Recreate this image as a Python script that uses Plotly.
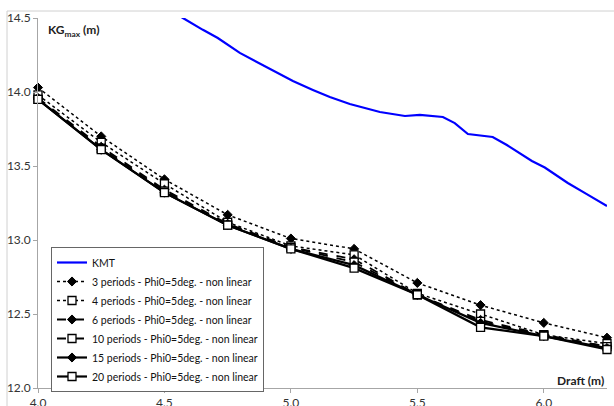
import plotly.graph_objects as go

# ---- data ----
kmt_draft = [4.50, 4.573, 4.652, 4.711, 4.798, 4.866, 4.945, 5.008, 5.087, 5.154, 5.233,
             5.352, 5.451, 5.51, 5.601, 5.648, 5.70, 5.798, 5.854, 5.953, 6.004, 6.095,
             6.17, 6.25]
kmt = [14.58, 14.50, 14.42, 14.365, 14.264, 14.203, 14.135, 14.074, 14.014, 13.966, 13.919,
       13.865, 13.838, 13.845, 13.831, 13.79, 13.716, 13.696, 13.642, 13.534, 13.49, 13.385,
       13.31, 13.23]

draft = [4.0, 4.25, 4.5, 4.75, 5.0, 5.25, 5.5, 5.75, 6.0, 6.25]
p3 = [14.03, 13.70, 13.41, 13.17, 13.01, 12.94, 12.71, 12.56, 12.44, 12.34]
p4 = [13.98, 13.66, 13.38, 13.12, 12.96, 12.90, 12.64, 12.50, 12.36, 12.30]
p6 = [13.96, 13.63, 13.34, 13.11, 12.95, 12.87, 12.63, 12.46, 12.36, 12.28]
p10 = [13.95, 13.62, 13.33, 13.10, 12.95, 12.85, 12.63, 12.45, 12.355, 12.28]
p15 = [13.95, 13.61, 13.32, 13.10, 12.94, 12.83, 12.63, 12.44, 12.35, 12.27]
p20 = [13.95, 13.61, 13.32, 13.10, 12.94, 12.81, 12.63, 12.41, 12.35, 12.26]

series_names = [
    "3 periods - Phi0=5deg. - non linear",
    "4 periods - Phi0=5deg. - non linear",
    "6 periods - Phi0=5deg. - non linear",
    "10 periods - Phi0=5deg. - non linear",
    "15 periods - Phi0=5deg. - non linear",
    "20 periods - Phi0=5deg. - non linear",
]
series_values = [p3, p4, p6, p10, p15, p20]
dashes = ["dot", "dot", "dash", "dash", "solid", "solid"]
widths = [1.5, 1.5, 1.8, 1.8, 2.2, 2.2]
symbols = ["diamond", "square", "diamond", "square", "diamond", "square"]

fig = go.Figure()
fig.add_trace(go.Scatter(x=kmt_draft, y=kmt, mode="lines", name="KMT",
                         line=dict(color="#0000FF", width=2.2)))
for name, vals, dsh, w, sym in zip(series_names, series_values, dashes, widths, symbols):
    if sym == "diamond":
        mk = dict(symbol="diamond", size=7, color="black", line=dict(color="black", width=1))
    else:
        mk = dict(symbol="square", size=8, color="white", line=dict(color="black", width=1.3))
    fig.add_trace(go.Scatter(x=draft, y=vals, mode="lines+markers", name=name,
                             line=dict(color="black", width=w, dash=dsh), marker=mk,
                             cliponaxis=False))

fig.update_layout(
    width=614, height=406,
    margin=dict(l=38, r=7, t=18, b=18, autoexpand=False),
    paper_bgcolor="white", plot_bgcolor="white",
    font=dict(family="Lato, 'Open Sans', sans-serif", size=12, color="#333333"),
    showlegend=True,
    legend=dict(x=(51 - 38) / 569, y=(388 - 319.5) / 370, xanchor="left", yanchor="middle",
                bgcolor="white", bordercolor="#666666", borderwidth=1,
                font=dict(size=10.5, color="#111111"), tracegroupgap=0),
    xaxis=dict(range=[4.0, 6.25], dtick=0.5, tick0=4.0, tickformat=".1f",
               showgrid=False, zeroline=False, showline=True, linecolor="#a6a6a6",
               linewidth=1, ticks="outside", ticklen=4, tickcolor="#a6a6a6"),
    yaxis=dict(range=[12.0, 14.5], dtick=0.5, tick0=12.0, tickformat=".1f",
               showgrid=False, zeroline=False, showline=True, linecolor="#a6a6a6",
               linewidth=1, ticks="outside", ticklen=4, tickcolor="#a6a6a6"),
    annotations=[
        dict(text="<b>KG<sub>max</sub> (m)</b>", xref="paper", yref="paper",
             x=(46 - 38) / 569, y=(388 - 31) / 370, xanchor="left", yanchor="middle",
             showarrow=False, font=dict(size=12, color="#222222")),
        dict(text="<b>Draft (m)</b>", xref="paper", yref="paper",
             x=(606 - 38) / 569, y=(388 - 380) / 370, xanchor="right", yanchor="middle",
             showarrow=False, font=dict(size=12, color="#222222")),
    ],
    shapes=[
        dict(type="rect", xref="paper", yref="paper",
             x0=(7 - 38) / 569, x1=1.5, y0=-0.5, y1=(388 - 11) / 370,
             line=dict(color="#d0d0d0", width=1), fillcolor="rgba(0,0,0,0)", layer="below"),
    ],
)

fig.write_html("out.html", config={"displayModeBar": False},
               post_script="document.body.style.margin='0';document.body.style.overflow='hidden';")
